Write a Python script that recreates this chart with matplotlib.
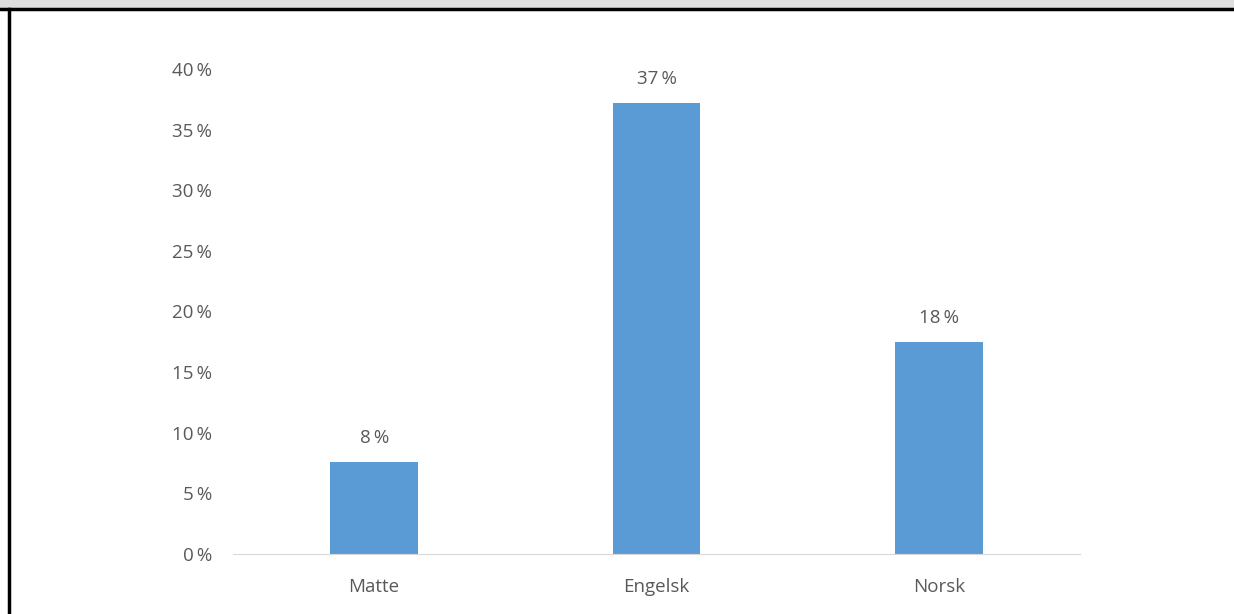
import matplotlib.pyplot as plt
from matplotlib.patches import Rectangle
from matplotlib.lines import Line2D

# data
fag = ['Matte', 'Engelsk', 'Norsk']
andel = [7.6, 37.2, 17.5]
yticks = [0, 5, 10, 15, 20, 25, 30, 35, 40]

plt.rcParams['font.family'] = ['Open Sans', 'DejaVu Sans']
grå = '#595959'

fig = plt.figure(figsize=(12.34, 6.14), dpi=100)
W, H = 1234, 614

# ramme og grått felt øverst
fig.patches.append(Rectangle((0, 1 - 8 / H), 1, 8 / H, transform=fig.transFigure,
                             facecolor='#dedede', edgecolor='none'))
fig.lines.append(Line2D([0, 1], [1 - 9 / H, 1 - 9 / H], transform=fig.transFigure,
                        color='black', linewidth=2.5))
fig.lines.append(Line2D([9 / W, 9 / W], [0, 1 - 9 / H], transform=fig.transFigure,
                        color='black', linewidth=2.5))

ax = fig.add_axes([233 / W, (H - 554) / H, (1080 - 233) / W, (554 - 69) / H])
stolper = ax.bar(range(len(fag)), andel, width=0.31, color='#5B9BD5')
for s, v in zip(stolper, andel):
    ax.text(s.get_x() + s.get_width() / 2, v + 1.2, f'{round(v)}\u2009%',
            ha='center', va='bottom', fontsize=13.5, color=grå)

ax.set_xlim(-0.5, 2.5)
ax.set_ylim(0, 40)
ax.set_yticks(yticks)
ax.set_yticklabels([f'{t}\u2009%' for t in yticks])
ax.set_xticks(range(len(fag)))
ax.set_xticklabels(fag)
ax.tick_params(axis='both', length=0, labelsize=13.5, labelcolor=grå)
ax.tick_params(axis='y', pad=15)
ax.tick_params(axis='x', pad=17)
for side in ['top', 'right', 'left']:
    ax.spines[side].set_visible(False)
ax.spines['bottom'].set_color('#d9d9d9')

plt.savefig('out.png', dpi=100)
